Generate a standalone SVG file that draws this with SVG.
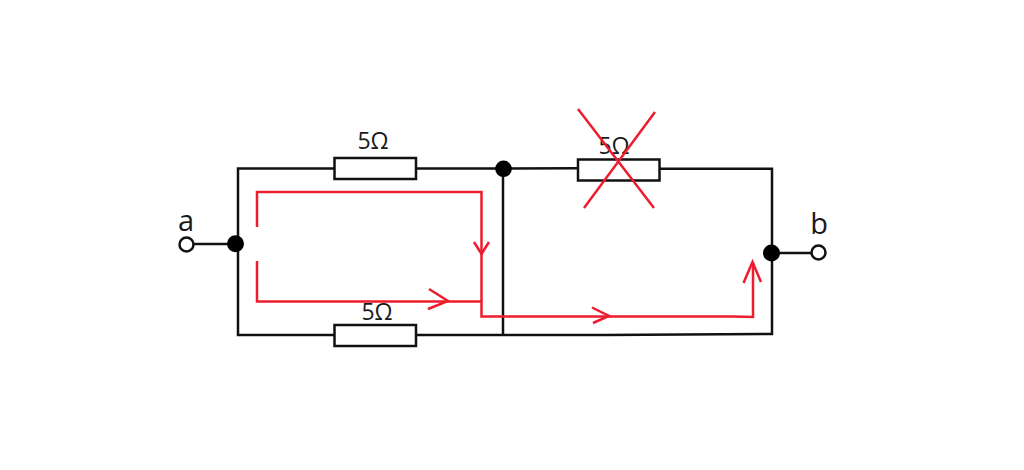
<svg xmlns="http://www.w3.org/2000/svg" width="1024" height="470" viewBox="0 0 1024 470">
<style>
.w{fill:none;stroke:#111;stroke-width:2.500}
.r{fill:none;stroke:#ed1c2e;stroke-width:2.500}
.res{fill:#fff;stroke:#111;stroke-width:2.500}
.dot{fill:#000}
.term{fill:#fff;stroke:#111;stroke-width:2.500}
text{font-family:"Open Sans","Noto Sans",sans-serif;fill:#1a1a1a;text-anchor:middle}
.v{font-size:23px}
.l{font-size:29px}
</style>
<rect width="1024" height="470" fill="#fff"/>
<g id="connectors">
<path class="w" d="M334 168.5H238V335H334M416 168.5H503L578 168.3M660 168.8H772V334L605 335H416M503 169V335M193 244H236M772 253H812"/>
</g>
<g id="resistor-top"><rect class="res" x="334.500" y="158" width="81.500" height="21"/><text class="v" x="373" y="149">5Ω</text></g>
<g id="resistor-bottom"><rect class="res" x="334.500" y="325" width="81.500" height="21"/><text class="v" x="377" y="320">5Ω</text></g>
<g id="resistor-right"><rect class="res" x="578" y="159.500" width="81.500" height="21"/><text class="v" x="614" y="154">5Ω</text></g>
<g id="node-a"><circle class="dot" cx="235.500" cy="243.800" r="8.500"/></g>
<g id="node-mid"><circle class="dot" cx="503.500" cy="168.800" r="8.300"/></g>
<g id="node-b"><circle class="dot" cx="771.500" cy="253" r="8.500"/></g>
<g id="terminal-a"><circle class="term" cx="186.500" cy="244.500" r="7"/><text class="l" x="186" y="230.500">a</text></g>
<g id="terminal-b"><circle class="term" cx="818.500" cy="252.500" r="7"/><text class="l" x="819" y="234">b</text></g>
<g id="current-paths">
<path class="r" d="M257 227V192H481.500V316.500H733L753 317V263M257 261V301.500H481.500"/>
<path class="r" d="M474 242L481.500 254L489 242M429 289L448 301L428 309M592 307.500L609 316L593 323M743.500 283L752.500 262L761 282"/>
<path class="r" d="M578 109L654 208M655 112L584 208"/>
</g>
</svg>
